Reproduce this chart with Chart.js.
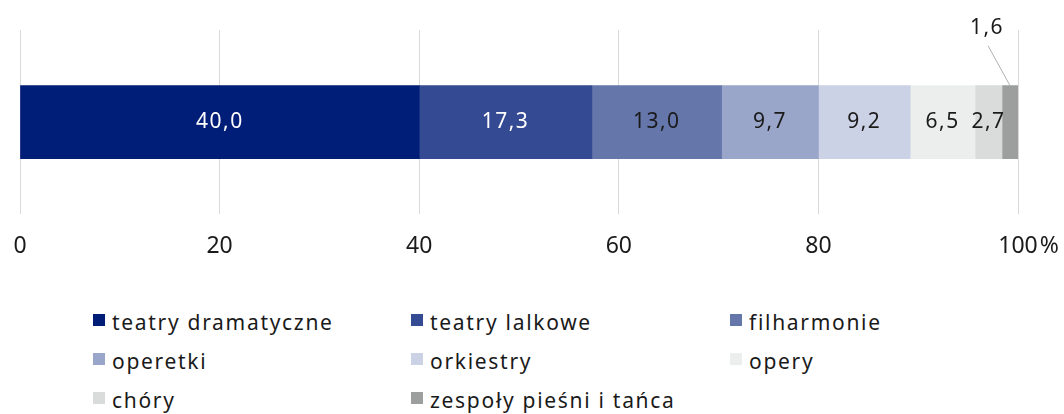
<!DOCTYPE html>
<html>
<head>
<meta charset="utf-8">
<script src="https://cdn.jsdelivr.net/npm/chart.js@4.4.0/dist/chart.umd.min.js"></script>
<style>
  html, body { margin: 0; padding: 0; background: #fff; }
  body { width: 1064px; height: 414px; position: relative; overflow: hidden; font-family: "Noto Sans", sans-serif; }
  #chart { position: absolute; left: 0; top: 0; }
  #legend { position: absolute; left: 93px; top: 302px; display: grid; grid-template-columns: 318px 319px 300px; grid-auto-rows: 39px; }
  .item { display: flex; align-items: center; font-size: 21px; letter-spacing: 1.7px; color: #1a1a1a; white-space: nowrap; }
  .sw { width: 12px; height: 12px; margin-right: 7px; flex: none; position: relative; top: -2px; }
</style>
</head>
<body>
<canvas id="chart" width="1064" height="286"></canvas>
<div id="legend"></div>
<script>
// udział instytucji kultury (%) — jeden słupek skumulowany
const categories = ['teatry dramatyczne', 'teatry lalkowe', 'filharmonie', 'operetki', 'orkiestry', 'opery', 'chóry', 'zespoły pieśni i tańca'];
const values = [40.0, 17.3, 13.0, 9.7, 9.2, 6.5, 2.7, 1.6];
const colors = ['#001d77', '#344a93', '#6576ab', '#99a5c9', '#ccd2e5', '#eceeee', '#dadcdc', '#9d9e9e'];
const labelColors = ['#ffffff', '#ffffff', '#1a1a1a', '#1a1a1a', '#1a1a1a', '#1a1a1a', '#1a1a1a', '#1a1a1a'];
const tickValues = [0, 20, 40, 60, 80, 100];

const FONT = '"Noto Sans", sans-serif';
const TICK_SIZE = 23;
const TICK_PAD = 18;
const fmt = v => v.toFixed(1).replace('.', ',');

const valueLabels = {
    id: 'valueLabels',
    afterDatasetsDraw(chart) {
        const { ctx } = chart;
        ctx.save();
        ctx.font = '21px ' + FONT;
        ctx.letterSpacing = '1.5px';
        ctx.textAlign = 'center';
        ctx.textBaseline = 'middle';
        chart.data.datasets.forEach((ds, i) => {
            const bar = chart.getDatasetMeta(i).data[0];
            const cx = (bar.x + bar.base) / 2;
            const top = bar.y - bar.height / 2;
            if (i === values.length - 1) {
                // mały segment: etykieta nad słupkiem z linią odniesienia
                ctx.strokeStyle = '#b0b0b0';
                ctx.lineWidth = 1;
                ctx.beginPath();
                ctx.moveTo(cx - 22, top - 40);
                ctx.lineTo(cx, top);
                ctx.stroke();
                ctx.fillStyle = '#1a1a1a';
                ctx.fillText(fmt(values[i]), cx - 23, top - 58);
            } else {
                ctx.fillStyle = labelColors[i];
                ctx.fillText(fmt(values[i]), cx, bar.y);
            }
        });
        ctx.restore();
    },
    afterDraw(chart) {
        // znak % po ostatniej etykiecie osi
        const { ctx } = chart;
        const sx = chart.scales.x;
        ctx.save();
        ctx.font = TICK_SIZE + 'px ' + FONT;
        ctx.fillStyle = '#1a1a1a';
        ctx.textAlign = 'left';
        ctx.textBaseline = 'middle';
        const w = ctx.measureText('100').width;
        ctx.fillText('%', sx.getPixelForValue(100) + w / 2 + 2, sx.top + TICK_PAD + TICK_SIZE * 1.2 / 2);
        ctx.restore();
    }
};

new Chart(document.getElementById('chart'), {
    type: 'bar',
    data: {
        labels: [''],
        datasets: categories.map((c, i) => ({
            label: c,
            data: [values[i]],
            backgroundColor: colors[i],
            borderWidth: 0,
            barThickness: 73
        }))
    },
    options: {
        indexAxis: 'y',
        responsive: false,
        animation: false,
        layout: { padding: { left: 20, right: 46, top: 30, bottom: 8 } },
        scales: {
            x: {
                stacked: true, min: 0, max: 100,
                afterBuildTicks: axis => { axis.ticks = tickValues.map(v => ({ value: v })); },
                afterFit: axis => { axis.paddingLeft = 0; axis.paddingRight = 0; },
                grid: { color: '#d9d9d9', drawTicks: false },
                border: { display: false },
                ticks: {
                    padding: TICK_PAD,
                    color: '#1a1a1a',
                    maxRotation: 0,
                    font: { size: TICK_SIZE, family: FONT },
                    callback: v => String(v)
                }
            },
            y: { stacked: true, display: false }
        },
        plugins: { legend: { display: false }, tooltip: { enabled: false } }
    },
    plugins: [valueLabels]
});

const legend = document.getElementById('legend');
categories.forEach((c, i) => {
    const item = document.createElement('div');
    item.className = 'item';
    item.innerHTML = `<span class="sw" style="background:${colors[i]}"></span>${c}`;
    legend.appendChild(item);
});
</script>
</body>
</html>
